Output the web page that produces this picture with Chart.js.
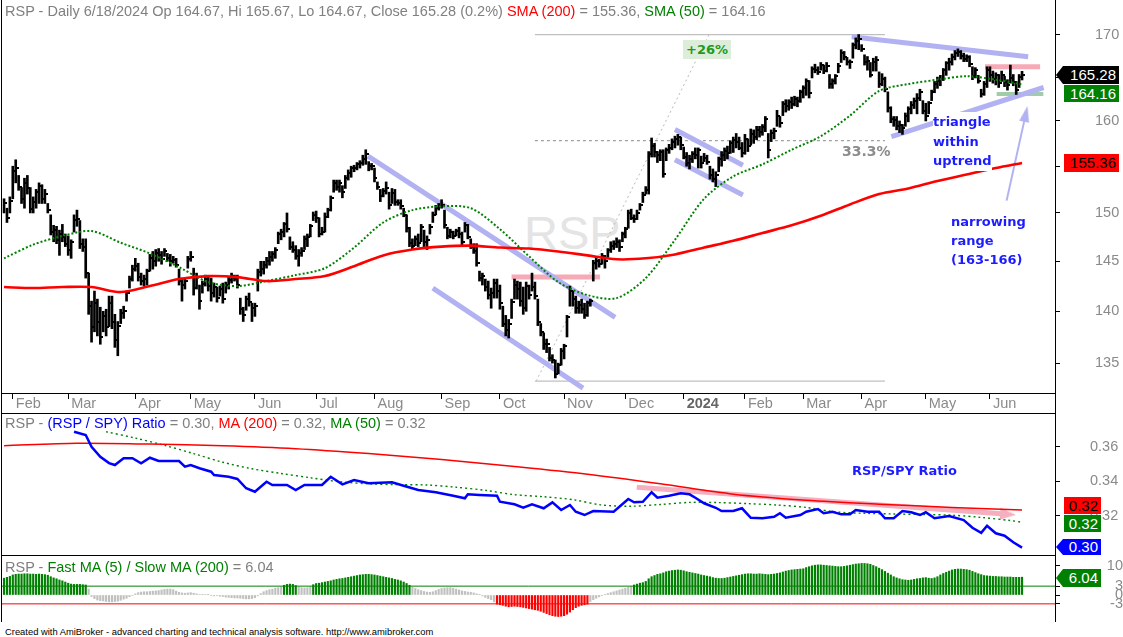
<!DOCTYPE html>
<html lang="en">
<head>
<meta charset="UTF-8" />
<title>RSP Daily - RSP/SPY Ratio</title>
<script src="https://cdn.jsdelivr.net/npm/chart.js"></script>
<style>
  body { margin: 0; background: #fff; }
  #page { position: relative; width: 1123px; height: 637px; overflow: hidden; font-family: "Liberation Sans", Arial, sans-serif; }
  canvas { position: absolute; left: 0; z-index: 1; }
  .ln { position: absolute; background: #000; z-index: 3; }
  .hdr { position: absolute; left: 5px; font-size: 14.5px; line-height: 16px; color: #808080; white-space: nowrap; z-index: 3; }
  .r { color: #ff0000; }
  .g { color: #008000; }
  .b { color: #0000ff; }
  .note { position: absolute; font-family: "DejaVu Sans", sans-serif; font-weight: bold; font-size: 13px; white-space: nowrap; z-index: 3; }
  .box { position: absolute; box-sizing: border-box; font-size: 15px; text-align: right; padding-right: 3px; z-index: 3; }
  .arrow { clip-path: polygon(7px 0, 100% 0, 100% 100%, 7px 100%, 0 50%); }
  #wm { position: absolute; left: 524px; top: 205px; font-size: 47px; color: #e4e4e4; z-index: 0; }
  #foot { position: absolute; left: 5px; top: 626px; font-size: 9.4px; line-height: 12px; color: #000; white-space: nowrap; }
</style>
</head>
<body>
<div id="page">
  <div id="wm">RSP</div>
  <canvas id="priceChart" width="1123" height="413" style="top:0"></canvas>
  <canvas id="ratioChart" width="1123" height="141" style="top:414px"></canvas>
  <canvas id="oscChart" width="1123" height="66" style="top:556px"></canvas>

  <div class="ln" style="left:1px;top:0;width:1px;height:622px"></div>
  <div class="ln" style="left:1055px;top:0;width:1px;height:622px"></div>
  <div class="ln" style="left:1px;top:393px;width:1055px;height:1px"></div>
  <div class="ln" style="left:1px;top:413px;width:1055px;height:1px"></div>
  <div class="ln" style="left:1px;top:555px;width:1055px;height:1px"></div>

  <div class="hdr" style="top:3px">RSP - Daily 6/18/2024 Op 164.67, Hi 165.67, Lo 164.67, Close 165.28 (0.2%) <span class="r">SMA (200)</span> = 155.36, <span class="g">SMA (50)</span> = 164.16</div>
  <div class="hdr" style="top:415px">RSP - <span class="b">(RSP / SPY) Ratio</span> = 0.30, <span class="r">MA (200)</span> = 0.32, <span class="g">MA (50)</span> = 0.32</div>
  <div class="hdr" style="top:559px">RSP - <span class="g">Fast MA (5) / Slow MA (200)</span> = 6.04</div>

  <div class="note" style="left:683px;top:40px;padding:2px 3px;background:#dcedd9;color:#1f9a1f">+26%</div>
  <div class="note" style="left:842px;top:143px;color:#8c8c8c;font-size:14px">33.3%</div>
  <div class="note" style="left:933px;top:112px;line-height:19.5px;color:#1c1cff;background:#fff">triangle<br>within<br>uptrend</div>
  <div class="note" style="left:951px;top:212px;line-height:19px;color:#1c1cff">narrowing<br>range<br>(163-166)</div>
  <div class="note" style="left:852px;top:463px;color:#1c1cff">RSP/SPY Ratio</div>

  <div class="box arrow" style="left:1056px;top:66px;width:63px;height:18px;line-height:18px;background:#000;color:#fff">165.28</div>
  <div class="box" style="left:1064px;top:85px;width:55px;height:17px;line-height:17px;background:#008000;color:#fff">164.16</div>
  <div class="box" style="left:1064px;top:154px;width:55px;height:18px;line-height:18px;background:#ff0000;color:#000">155.36</div>
  <div class="box" style="left:1064px;top:497px;width:37px;height:17px;line-height:17px;background:#ff0000;color:#000">0.32</div>
  <div class="box" style="left:1064px;top:515px;width:37px;height:17px;line-height:17px;background:#008000;color:#fff">0.32</div>
  <div class="box arrow" style="left:1056px;top:539px;width:45px;height:16px;line-height:16px;background:#0000ff;color:#fff">0.30</div>
  <div class="box arrow" style="left:1056px;top:569px;width:45px;height:18px;line-height:18px;background:#008000;color:#fff">6.04</div>

  <div id="foot">Created with AmiBroker - advanced charting and technical analysis software. http://www.amibroker.com</div>
</div>

<script>
// trading days from 1/27/2023 to 6/18/2024, index 0..349
const monthIdx = [3, 22, 45, 64, 86, 107, 127, 150, 170, 192, 213, 233, 254, 274, 294, 316, 338];
const monthNames = ["Feb", "Mar", "Apr", "May", "Jun", "Jul", "Aug", "Sep", "Oct", "Nov", "Dec", "2024", "Feb", "Mar", "Apr", "May", "Jun"];

const priceTicks = [135, 140, 145, 150, 155, 160, 165, 170];
const ratioTicks = [0.32, 0.34, 0.36];
const oscTicks = [-3, 0, 3, 10];

const low = [
  150.0,149.0,150.0,151.5,153.2,152.4,151.0,150.5,152.0,150.0,
  150.0,150.5,151.0,151.0,151.0,150.0,147.7,147.0,146.8,145.6,
  147.0,146.5,145.6,145.3,148.0,148.6,146.3,146.0,143.3,139.7,
  137.0,138.0,137.6,136.8,138.0,137.6,138.5,138.3,136.5,135.7,
  138.8,139.3,141.0,142.3,143.0,144.0,143.0,142.6,142.5,142.6,
  144.0,144.2,144.5,145.0,144.7,145.5,145.0,144.5,144.8,144.4,
  142.6,141.0,142.2,144.3,145.0,141.6,142.2,140.2,141.8,142.5,
  142.0,141.0,141.4,140.9,141.5,140.8,141.8,142.2,142.8,143.0,
  142.3,139.7,139.0,140.1,140.5,139.0,139.5,142.0,143.5,143.7,
  144.3,144.6,145.0,145.3,146.8,147.2,147.5,148.0,146.2,145.9,
  145.2,144.5,145.5,146.2,146.5,147.5,149.2,149.0,147.5,147.7,
  148.0,149.5,150.2,152.2,152.4,152.2,151.6,152.6,153.5,153.8,
  154.4,154.6,154.8,155.1,155.2,154.5,154.6,153.3,152.5,151.2,
  151.7,152.0,150.4,151.0,150.8,150.8,150.4,149.6,148.0,146.5,
  146.2,146.6,146.5,147.0,146.5,146.2,147.8,149.0,149.8,150.3,
  150.5,148.4,147.3,147.4,147.3,147.6,147.4,146.6,148.0,147.3,
  146.3,145.8,144.5,143.0,142.6,142.0,141.2,140.3,141.3,141.3,
  140.2,138.5,137.6,137.4,139.3,141.2,141.2,140.5,139.7,140.0,
  141.2,142.0,141.2,138.6,137.6,136.3,136.0,135.2,135.0,133.6,
  134.0,134.8,135.4,137.5,140.5,140.5,139.8,139.8,139.8,139.3,
  139.5,140.5,143.0,144.2,144.4,144.7,144.3,145.4,145.9,146.2,
  146.4,146.0,147.0,147.4,148.4,149.3,149.0,149.3,150.3,151.1,
  152.0,152.0,156.0,156.0,155.4,155.6,153.8,155.6,156.4,156.8,
  157.0,157.3,156.8,155.8,155.0,154.7,155.4,155.8,154.8,154.8,
  155.5,155.2,153.6,153.3,152.8,154.4,155.0,155.6,155.8,156.4,
  156.5,157.0,156.8,156.0,156.3,156.6,157.3,157.5,157.9,158.2,
  158.4,158.8,155.9,157.7,158.0,159.4,159.3,160.6,161.0,161.2,
  161.4,161.7,161.6,162.1,162.6,162.9,162.6,164.9,165.5,165.3,
  165.8,165.4,165.6,163.7,163.7,164.2,165.5,166.7,167.0,166.4,
  166.0,167.2,168.3,168.2,168.0,166.4,165.8,165.0,165.7,165.7,
  163.8,164.0,163.3,161.0,159.8,159.4,159.0,158.7,158.5,159.4,
  159.9,160.8,161.4,160.8,162.3,160.8,160.0,160.8,162.3,163.2,
  163.7,164.0,164.6,165.2,165.8,166.4,167.0,167.4,167.1,166.8,
  166.8,166.2,164.7,164.9,164.3,162.7,162.9,163.8,164.5,164.3,
  164.1,163.8,164.5,163.9,163.5,164.3,164.0,163.0,163.8,164.67
];
const high = [
  151.5,150.5,151.7,155.0,155.7,154.0,152.7,153.7,154.0,152.7,
  151.7,152.5,153.2,153.0,152.5,151.0,149.8,148.7,148.6,148.2,
  148.8,147.8,147.6,147.2,149.8,150.3,149.2,147.3,147.3,143.8,
  141.0,142.0,141.2,140.4,140.0,140.2,141.5,141.5,139.7,139.0,
  140.2,140.5,142.0,143.5,144.6,145.3,144.8,143.8,143.6,144.2,
  145.7,146.0,146.2,146.3,146.0,146.3,145.8,145.7,145.5,145.3,
  144.2,143.3,143.2,145.5,146.0,144.3,143.8,142.6,143.0,143.6,
  143.4,143.3,142.8,142.4,142.5,142.8,142.9,143.4,143.8,143.6,
  143.6,141.3,140.4,141.5,141.8,140.8,140.8,144.2,145.0,145.0,
  145.4,146.0,146.0,146.4,148.0,148.3,149.0,150.0,147.5,147.0,
  146.6,146.2,146.4,147.6,147.8,148.8,150.1,150.2,149.5,148.5,
  150.0,150.5,151.8,153.5,153.5,153.5,152.9,154.0,154.6,155.0,
  155.1,155.4,155.6,156.2,156.8,155.5,155.3,154.8,153.3,152.5,
  152.6,153.3,152.2,152.6,152.5,151.4,151.4,150.5,149.8,148.5,
  147.3,147.6,147.8,148.8,148.2,147.6,148.8,150.1,150.8,151.0,
  151.4,150.3,148.5,148.3,148.1,148.3,148.5,148.0,149.0,148.8,
  147.3,146.8,146.8,144.0,143.8,143.2,143.0,142.3,143.2,143.2,
  142.6,140.5,139.6,139.2,141.2,143.2,143.0,142.9,142.4,142.9,
  142.6,143.8,142.9,141.2,138.8,137.9,137.3,136.5,135.8,135.3,
  135.0,136.4,136.8,139.6,142.5,142.0,141.5,141.0,141.2,140.8,
  141.0,141.2,145.1,145.5,145.2,145.8,145.6,146.3,147.0,147.1,
  147.4,147.2,148.0,148.5,150.3,150.4,149.8,150.3,151.0,152.2,
  152.8,156.6,158.1,157.5,156.6,156.8,156.8,157.0,157.4,158.0,
  158.3,158.5,158.2,157.1,156.5,156.2,156.6,157.0,157.0,156.1,
  156.4,156.2,155.0,154.7,154.4,156.0,156.6,157.0,157.2,157.8,
  158.2,158.6,158.2,157.6,158.5,158.0,159.1,159.0,159.4,159.4,
  159.6,160.5,158.6,159.0,159.2,161.2,160.5,162.2,162.4,162.4,
  162.7,162.8,162.7,163.5,164.0,164.8,164.6,166.2,166.5,166.2,
  166.7,166.4,166.7,165.3,164.8,165.3,166.6,168.2,168.0,167.3,
  167.0,169.0,169.6,170.0,168.8,167.6,167.4,166.7,167.2,167.4,
  165.6,165.4,165.0,163.3,161.6,160.5,160.5,160.0,159.6,160.9,
  161.6,162.2,162.6,163.1,163.6,162.3,162.0,162.2,163.5,164.5,
  165.0,165.2,166.0,166.8,167.2,167.7,168.1,168.3,168.1,167.8,
  167.6,167.5,166.2,166.1,165.2,163.6,164.5,166.2,166.2,165.7,
  165.5,165.3,165.7,165.1,164.7,166.4,165.3,164.5,165.3,165.67
];
const close = [
  151.0,149.5,151.3,154.5,154.8,152.8,151.5,153.2,152.6,150.4,
  151.2,152.2,152.9,151.5,152.0,150.3,148.0,148.2,147.2,147.8,
  147.5,146.8,146.2,147.0,149.3,149.4,146.8,146.5,143.8,140.5,
  138.5,140.8,139.0,137.5,139.5,138.5,140.8,139.0,137.2,138.6,
  139.8,140.0,141.8,143.2,144.2,144.5,143.4,143.0,143.2,144.0,
  145.3,145.0,145.8,145.6,145.2,146.0,145.3,145.0,145.1,144.6,
  143.0,142.6,143.0,145.2,145.4,142.3,143.4,141.0,142.7,143.2,
  142.5,141.8,142.4,141.3,142.2,141.2,142.6,143.1,143.5,143.2,
  142.6,140.2,139.6,141.2,140.9,140.3,140.5,143.9,144.2,144.6,
  145.0,145.4,145.7,146.2,147.8,148.0,148.8,148.3,146.5,146.2,
  145.5,145.8,146.0,147.3,147.5,148.6,149.8,149.5,147.8,148.0,
  149.6,150.3,151.6,153.2,152.8,153.2,152.2,153.7,154.3,154.8,
  154.8,155.2,155.4,155.8,156.3,155.0,155.0,153.7,152.8,151.8,
  152.3,152.7,150.8,152.1,151.2,151.0,150.7,149.8,148.4,146.9,
  146.6,147.3,146.9,148.5,147.0,147.2,148.5,149.8,150.5,150.7,
  150.8,148.7,147.6,148.0,147.6,148.1,147.8,147.0,148.7,147.5,
  146.5,146.0,144.8,143.3,143.5,142.4,141.6,141.8,142.8,142.0,
  140.8,138.8,138.2,138.8,140.9,142.6,142.2,141.0,140.3,142.5,
  141.6,142.4,141.5,139.0,138.0,136.8,136.8,135.5,135.3,134.0,
  134.8,136.2,136.6,139.4,142.0,141.2,140.3,140.6,140.2,139.6,
  140.8,141.0,144.8,145.0,144.7,145.5,145.0,146.1,146.6,146.8,
  147.0,146.5,147.8,148.3,150.0,149.5,149.4,150.0,150.8,151.9,
  152.4,156.3,157.2,156.5,156.2,156.5,154.2,156.8,157.0,157.6,
  158.0,158.2,157.3,156.0,155.3,155.8,156.3,156.2,156.8,155.3,
  155.9,155.5,154.0,153.6,154.1,155.8,156.2,156.7,156.4,157.5,
  157.9,157.6,157.0,156.4,158.0,157.2,158.5,158.2,159.0,158.8,
  159.3,160.2,156.8,158.6,158.9,160.6,159.8,161.9,161.7,162.1,
  161.9,162.5,162.2,163.3,163.7,164.5,163.2,165.9,165.8,165.6,
  166.4,165.7,166.3,164.2,164.5,165.1,166.3,167.8,167.4,166.7,
  166.8,168.7,169.2,169.5,168.3,166.8,166.9,165.3,166.8,167.0,
  164.2,164.8,163.6,161.5,160.2,160.1,159.4,159.5,159.2,160.6,
  161.3,161.8,162.2,162.6,163.3,161.1,160.6,162.0,163.3,164.2,
  164.6,164.8,165.8,166.6,166.8,167.3,167.8,167.9,167.5,167.1,
  167.3,166.5,165.1,165.8,164.6,163.0,164.2,165.8,165.2,164.8,
  165.2,164.3,165.2,164.4,164.1,164.9,164.4,163.5,165.0,165.28
];

// moving averages every 10 bars
const maDays = [0,10,20,30,40,50,60,70,80,90,100,110,120,130,140,150,160,170,180,190,200,210,220,230,240,250,260,270,280,290,300,310,320,330,340,349];
const sma200 = [142.4,142.3,142.4,142.4,141.9,142.5,143.2,143.5,143.4,143.0,143.2,143.5,144.5,145.6,146.2,146.5,146.6,146.4,146.3,146.0,145.6,145.2,145.3,145.7,146.4,147.1,147.9,148.7,149.7,150.9,152.0,152.6,153.4,154.1,154.8,155.36];
const sma50 = [145.3,146.7,147.6,148.1,146.9,145.8,144.4,142.9,142.5,143.0,143.6,144.3,146.4,149.0,150.3,150.7,150.5,148.3,145.5,142.9,141.6,141.3,143.3,147.2,151.5,153.9,155.2,156.8,158.3,160.6,163.4,164.2,164.7,165.1,164.7,164.16];

// RSP / SPY ratio
const ratioDays = [24,28,30,33,36,38,41,44,47,50,53,60,62,64,67,71,72,77,80,83,86,88,90,92,97,100,103,109,112,116,120,125,133,137,142,148,154,158,159,163,169,170,175,178,181,185,188,191,194,196,199,202,209,214,216,219,222,224,228,232,235,237,240,244,246,250,253,256,260,264,266,268,273,275,279,281,284,287,290,292,296,300,302,305,308,311,314,316,319,324,329,332,335,337,340,343,346,349];
const ratioVals = [0.3687,0.3668,0.3600,0.3542,0.3505,0.3494,0.3533,0.3533,0.3504,0.3536,0.3517,0.3517,0.3484,0.3494,0.3475,0.3455,0.3436,0.3426,0.3413,0.3359,0.3339,0.3368,0.3397,0.3378,0.3378,0.3349,0.3378,0.3378,0.3426,0.3382,0.3407,0.3388,0.3394,0.3374,0.3349,0.3336,0.3316,0.3301,0.3324,0.3320,0.3316,0.3281,0.3266,0.3246,0.3266,0.3243,0.3277,0.3233,0.3262,0.3223,0.3204,0.3227,0.3223,0.3297,0.3278,0.3281,0.3336,0.3304,0.3316,0.3330,0.3324,0.3304,0.3272,0.3246,0.3227,0.3227,0.3243,0.3188,0.3185,0.3194,0.3214,0.3188,0.3204,0.3223,0.3239,0.3214,0.3223,0.3208,0.3208,0.3233,0.3223,0.3223,0.3185,0.3185,0.3227,0.3220,0.3204,0.3220,0.3185,0.3198,0.3175,0.3130,0.3101,0.3142,0.3098,0.3084,0.3046,0.3015];
const ratioMa200Days = [0,25,50,75,100,125,150,175,200,225,250,275,300,325,349];
const ratioMa200 = [0.3606,0.3620,0.3615,0.3605,0.3588,0.3560,0.3526,0.3485,0.3440,0.3385,0.3325,0.3290,0.3267,0.3248,0.3233];
const ratioMa50Days = [35,45,55,65,75,85,95,105,115,125,135,145,155,165,175,185,195,205,215,225,235,245,255,265,275,285,295,305,315,325,335,345,349];
const ratioMa50 = [0.3687,0.3650,0.3608,0.3560,0.3510,0.3472,0.3445,0.3420,0.3397,0.3385,0.3380,0.3378,0.3365,0.3347,0.3322,0.3310,0.3293,0.3262,0.3255,0.3265,0.3277,0.3276,0.3270,0.3262,0.3248,0.3222,0.3214,0.3210,0.3207,0.3203,0.3190,0.3172,0.3162];

// Fast MA(5) / Slow MA(200), percent
const oscVals = [
  5.7,6.0,6.3,6.8,7.0,7.1,7.1,7.2,7.2,7.1,
  7.1,7.0,7.1,7.0,6.9,6.7,6.2,5.8,5.5,5.1,
  4.8,4.4,4.0,3.7,3.6,3.6,3.6,3.5,3.4,2.0,
  -0.5,-1.2,-1.7,-1.9,-2.0,-2.2,-2.3,-2.3,-2.2,-2.1,
  -1.8,-1.4,-1.1,-0.6,-0.2,0.4,0.8,1.0,1.1,1.1,
  1.2,1.3,1.4,1.5,1.7,1.9,2.0,2.0,1.8,1.3,
  0.9,0.7,0.6,0.7,0.8,0.6,0.4,0.2,0.1,0.2,
  0.1,-0.2,-0.3,-0.2,-0.4,-0.5,-0.7,-0.8,-0.9,-1.0,
  -1.0,-1.1,-1.2,-1.3,-1.3,-1.2,-0.9,-0.3,0.5,1.1,
  1.5,1.8,2.0,2.3,2.5,2.7,3.3,3.6,3.7,3.6,
  3.2,2.7,2.5,2.4,2.5,2.8,3.5,3.9,4.0,4.2,
  4.4,4.6,4.8,5.1,5.3,5.5,5.6,5.8,6.0,6.2,
  6.4,6.6,6.8,6.9,7.0,7.0,6.9,6.8,6.6,6.4,
  6.2,6.0,5.8,5.6,5.3,5.1,4.8,4.4,3.9,3.3,
  2.6,2.2,1.8,1.5,1.2,1.0,0.9,1.1,1.5,1.9,
  2.2,2.4,2.5,2.5,2.3,2.0,1.7,1.4,1.2,1.0,
  0.9,0.7,0.4,0.1,-0.3,-0.8,-1.2,-1.6,-2.3,-3.1,
  -3.3,-3.5,-3.8,-4.0,-3.9,-3.8,-3.9,-4.0,-4.2,-4.4,
  -4.6,-4.8,-5.0,-5.2,-5.5,-5.9,-6.3,-6.7,-7.0,-7.2,
  -7.3,-7.2,-7.0,-6.5,-5.8,-5.0,-4.3,-3.8,-3.5,-3.3,
  -3.1,-2.2,-1.6,-1.1,-0.6,-0.2,0.2,0.5,0.8,1.1,
  1.4,1.7,2.0,2.3,2.6,2.9,3.4,3.7,4.0,4.2,
  4.6,5.5,6.2,6.6,7.0,7.2,7.5,7.9,8.1,8.3,
  8.4,8.5,8.4,8.2,7.9,7.7,7.5,7.3,7.1,6.8,
  6.6,6.4,6.2,5.9,5.7,5.6,5.6,5.7,5.9,6.1,
  6.3,6.5,6.7,6.9,7.1,7.2,7.2,7.1,7.1,7.2,
  7.1,7.0,6.9,7.0,7.1,7.3,7.5,7.8,8.1,8.3,
  8.5,8.6,8.7,8.8,8.9,9.3,9.6,9.9,10.1,10.2,
  10.2,10.1,10.0,9.9,9.8,9.7,9.6,9.6,9.7,9.9,
  10.1,10.3,10.5,10.6,10.7,10.7,10.6,10.4,10.0,9.6,
  9.1,8.6,8.0,7.4,6.8,6.2,5.8,5.5,5.2,5.1,
  5.0,5.1,5.3,5.5,5.6,5.8,5.9,5.7,5.6,5.8,
  6.2,6.8,7.3,7.7,8.1,8.5,8.7,8.8,8.8,8.7,
  8.6,8.4,8.0,7.6,7.2,6.9,6.6,6.5,6.4,6.3,
  6.3,6.2,6.2,6.1,6.1,6.1,6.0,6.0,6.0,6.04
];

// hand-drawn annotations, in (bar index, value) coordinates
const priceNotes = [
  { kind: "lav", pts: [[124.8, 156.1], [209.5, 139.4]] },
  { kind: "lav", pts: [[147, 142.3], [198.5, 132.65]] },
  { kind: "lav", pts: [[230, 159.05], [253.3, 155.1]] },
  { kind: "lav", pts: [[230, 155.7], [253.3, 151.9]] },
  { kind: "lav", pts: [[290.6, 169.74], [351.1, 167.37]] },
  { kind: "lav", pts: [[304.2, 158.24], [356.4, 163.8]] },
  { kind: "lavArrow", pts: [[343.7, 151.3], [350.3, 160.8]], rot: 12 },
  { kind: "pink", pts: [[174, 143.4], [204.3, 143.4]] },
  { kind: "pink", pts: [[336.3, 166.2], [355.2, 166.2]] },
  { kind: "sage", pts: [[340.3, 163.05], [356.3, 163.05]] },
  { kind: "fib", pts: [[182, 170], [302, 170]] },
  { kind: "fib", pts: [[182, 133.3], [302, 133.3]] },
  { kind: "fibDash", pts: [[182, 157.8], [302, 157.8]] },
  { kind: "fibDiag", pts: [[182.4, 133.3], [241.7, 170]] }
];
const ratioNotes = [
  { kind: "pinkArrow", pts: [[216.9, 0.3365], [344.2, 0.3208]], rot: 94 }
];

const noteStyle = {
  lav: { color: "rgb(178,178,242)", width: 5 },
  lavArrow: { color: "rgb(178,178,242)", width: 2 },
  pink: { color: "rgb(246,170,182)", width: 5 },
  pinkArrow: { color: "rgb(246,175,190)", width: 5 },
  sage: { color: "rgb(160,204,170)", width: 4 },
  fib: { color: "rgb(192,192,192)", width: 1.3 },
  fibDash: { color: "#8a8a8a", width: 1, dash: [3, 3] },
  fibDiag: { color: "rgb(185,185,185)", width: 1, dash: [2, 3] }
};

const xMin = -0.7, xMax = 360.3;
const FONT = "Liberation Sans";

function arrowHead(color, w, h) {
  const c = document.createElement("canvas");
  c.width = w; c.height = h;
  const g = c.getContext("2d");
  g.fillStyle = color;
  g.beginPath(); g.moveTo(w / 2, 0); g.lineTo(w, h); g.lineTo(0, h); g.closePath(); g.fill();
  return c;
}

const closeTick = document.createElement("canvas");
closeTick.width = 6; closeTick.height = 2;
const tg = closeTick.getContext("2d");
tg.fillStyle = "#000";
tg.fillRect(3, 0, 3, 2);

const pts = (days, vals) => days.map((d, k) => ({ x: d, y: vals[k] }));

function noteSets(notes) {
  return notes.map(n => {
    const st = noteStyle[n.kind];
    const isArrow = n.kind.endsWith("Arrow");
    const head = isArrow ? arrowHead(st.color, n.kind === "pinkArrow" ? 12 : 10, 16) : null;
    return {
      type: "line",
      data: n.pts.map(p => ({ x: p[0], y: p[1] })),
      borderColor: st.color,
      borderWidth: st.width,
      borderDash: st.dash || [],
      pointRadius: isArrow ? [0, 3] : 0,
      pointStyle: isArrow ? head : "circle",
      pointRotation: n.rot || 0,
      order: 10
    };
  });
}

// label padding of the axes must not eat into the plot area
function noPad(a) {
  a.paddingTop = 0; a.paddingBottom = 0; a.paddingLeft = 0; a.paddingRight = 0;
}

function xAxis(show) {
  return {
    type: "linear", min: xMin, max: xMax, offset: false, display: show,
    afterBuildTicks: a => { a.ticks = monthIdx.map(v => ({ value: v })); },
    afterFit: a => { a.height = show ? 20 : 0; noPad(a); },
    grid: { drawOnChartArea: false, offset: false, color: "#000", tickLength: 6 },
    border: { display: false },
    ticks: {
      autoSkip: false, maxRotation: 0, minRotation: 0, align: "start", labelOffset: 3, padding: -4,
      callback: (v, i) => monthNames[i],
      color: c => (monthNames[c.index] === "2024" ? "#666" : "#8a8a8a"),
      font: c => ({ family: FONT, size: 14.5, weight: monthNames[c.index] === "2024" ? "bold" : "normal" })
    }
  };
}

function yAxis(type, min, max, tickVals, fmt, pad, align) {
  return {
    type: type, position: "right", min: min, max: max, bounds: "data",
    afterBuildTicks: a => { a.ticks = tickVals.map(v => ({ value: v })); },
    afterFit: a => { a.width = 68; noPad(a); },
    grid: { drawOnChartArea: false, color: "#000", tickLength: 5 },
    border: { display: false },
    ticks: { autoSkip: false, callback: fmt, color: "#8a8a8a", font: { family: FONT, size: 14.5 }, padding: pad, crossAlign: align }
  };
}

const common = {
  responsive: false,
  animation: false,
  events: [],
  layout: { autoPadding: false, padding: { left: 2, right: 0, top: 0, bottom: 0 } },
  plugins: { legend: { display: false }, tooltip: { enabled: false } }
};

const days = close.map((_, i) => i);

// price pane
new Chart(document.getElementById("priceChart"), {
  type: "bar",
  data: {
    datasets: [
      { type: "line", data: pts(maDays, sma200), borderColor: "#ff0000", borderWidth: 2.6, pointRadius: 0, tension: 0.3, order: 0 },
      { type: "line", data: pts(maDays, sma50), borderColor: "#008000", borderWidth: 2, borderDash: [2, 2], pointRadius: 0, tension: 0.3, order: 0 },
      { type: "bar", data: days.map(i => ({ x: i, y: [low[i], high[i]] })), backgroundColor: "#000", barThickness: 2, order: 2 },
      { type: "line", data: pts(days, close), showLine: false, pointStyle: closeTick, pointRadius: 2, order: 1 },
      ...noteSets(priceNotes)
    ]
  },
  options: {
    ...common,
    scales: {
      x: xAxis(true),
      y: yAxis("logarithmic", 132.2, 174.17, priceTicks, v => String(v), 35, "near")
    }
  }
});

// ratio pane
new Chart(document.getElementById("ratioChart"), {
  type: "line",
  data: {
    datasets: [
      { data: pts(ratioDays, ratioVals), borderColor: "#0000ff", borderWidth: 2.5, pointRadius: 0, order: 0 },
      { data: pts(ratioMa200Days, ratioMa200), borderColor: "#ff0000", borderWidth: 1.5, pointRadius: 0, tension: 0.3, order: 1 },
      { data: pts(ratioMa50Days, ratioMa50), borderColor: "#008000", borderWidth: 1.4, borderDash: [2, 3], pointRadius: 0, tension: 0.3, order: 1 },
      ...noteSets(ratioNotes)
    ]
  },
  options: {
    ...common,
    scales: {
      x: xAxis(false),
      y: yAxis("linear", 0.29722, 0.37896, ratioTicks, v => v.toFixed(2), 30, "near")
    }
  }
});

// oscillator pane
new Chart(document.getElementById("oscChart"), {
  type: "bar",
  data: {
    datasets: [
      { type: "line", data: [{ x: xMin, y: 3 }, { x: xMax, y: 3 }], borderColor: "#008000", borderWidth: 1, pointRadius: 0, order: 0 },
      { type: "line", data: [{ x: xMin, y: -3 }, { x: xMax, y: -3 }], borderColor: "#ff0000", borderWidth: 1, pointRadius: 0, order: 0 },
      {
        type: "bar", data: pts(days, oscVals), barThickness: 1.5, order: 1,
        backgroundColor: c => { const v = oscVals[c.dataIndex]; return v > 3 ? "#008000" : (v < -3 ? "#ff0000" : "#c0c0c0"); }
      }
    ]
  },
  options: {
    ...common,
    scales: {
      x: xAxis(false),
      y: yAxis("linear", -9.15, 13.22, oscTicks, v => String(v), 42, "far")
    }
  }
});
</script>
</body>
</html>
